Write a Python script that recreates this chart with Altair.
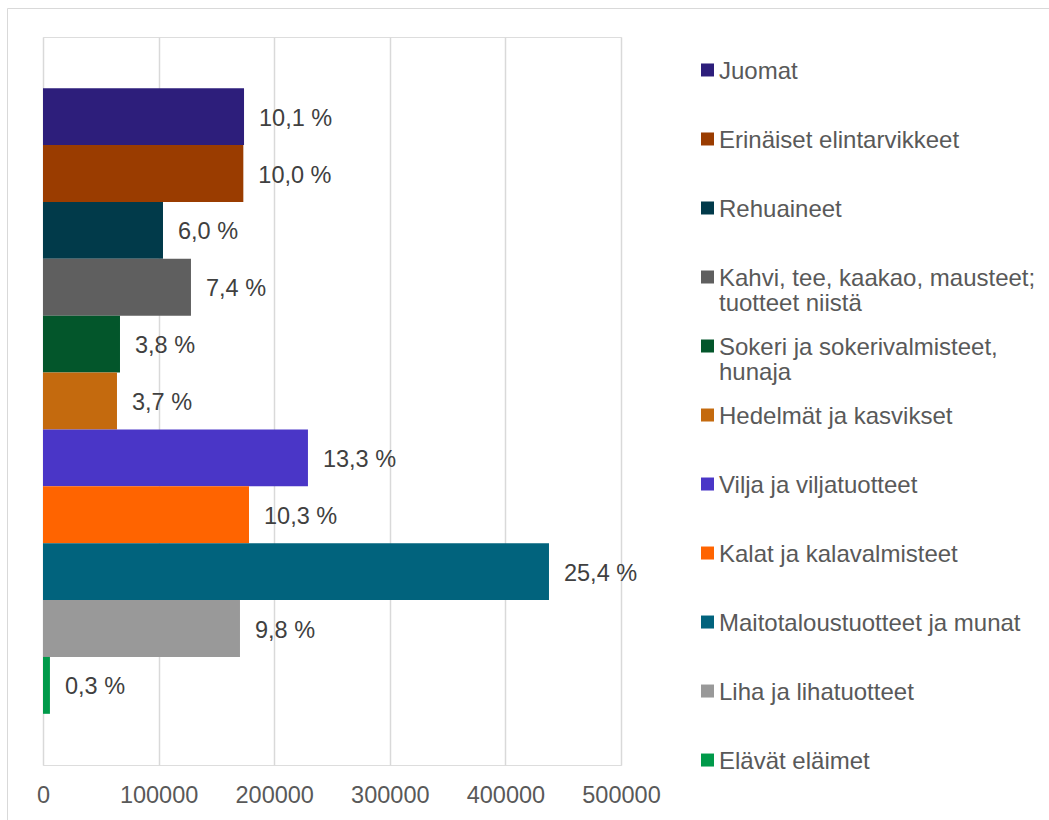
import altair as alt
import pandas as pd

FONT = "Liberation Sans"

categories = [
    "Juomat",
    "Erinäiset elintarvikkeet",
    "Rehuaineet",
    "Kahvi, tee, kaakao, mausteet; tuotteet niistä",
    "Sokeri ja sokerivalmisteet, hunaja",
    "Hedelmät ja kasvikset",
    "Vilja ja viljatuotteet",
    "Kalat ja kalavalmisteet",
    "Maitotaloustuotteet ja munat",
    "Liha ja lihatuotteet",
    "Elävät eläimet",
]
legend_labels = [
    "Juomat",
    "Erinäiset elintarvikkeet",
    "Rehuaineet",
    "Kahvi, tee, kaakao, mausteet;\ntuotteet niistä",
    "Sokeri ja sokerivalmisteet,\nhunaja",
    "Hedelmät ja kasvikset",
    "Vilja ja viljatuotteet",
    "Kalat ja kalavalmisteet",
    "Maitotaloustuotteet ja munat",
    "\u00a0Liha ja lihatuotteet",
    "Elävät eläimet",
]
values = [173900, 173300, 103800, 128000, 66600, 64000, 229200, 178200, 437700, 170400, 6000]
shares = [10.1, 10.0, 6.0, 7.4, 3.8, 3.7, 13.3, 10.3, 25.4, 9.8, 0.3]
colors = [
    "#2d1e7b", "#9a3c00", "#013a4a", "#5f5f5f", "#03562b", "#c46a0e",
    "#4a36c7", "#ff6400", "#01637d", "#999999", "#009a4a",
]
x_ticks = [0, 100000, 200000, 300000, 400000, 500000]

df = pd.DataFrame({
    "category": categories,
    "legend": legend_labels,
    "value": values,
    "label": [f"{s:.1f} %".replace(".", ",") for s in shares],
    "idx": list(range(len(categories))),
})

color_enc = alt.Color("category:N", scale=alt.Scale(domain=categories, range=colors), legend=None)

x_enc = alt.X(
    "value:Q",
    scale=alt.Scale(domain=[0, 500000], nice=False, zero=True),
    axis=alt.Axis(
        values=x_ticks, format="d", grid=True, gridColor="#d9d9d9", gridWidth=1.5,
        domain=False, ticks=False, tickSize=0, labelFont=FONT, labelFontSize=23.5,
        labelColor="#595959", labelPadding=18, labelOverlap=False, labelFlush=False,
        title=None,
    ),
)
y_bar = alt.Y(
    "category:N", sort=categories, axis=None,
    scale=alt.Scale(type="band", paddingInner=0, paddingOuter=0.9),
)
y_leg = alt.Y(
    "idx:Q", axis=None,
    scale=alt.Scale(domain=[-0.478, 10.072], reverse=True, nice=False, zero=False),
)

base = alt.Chart(df)

border = alt.Chart(pd.DataFrame({"k": [0]})).mark_rect(
    fill="transparent", stroke="#d9d9d9", strokeWidth=1
).encode(
    x=alt.value(-35.5), y=alt.value(-28.5), x2=alt.value(1100), y2=alt.value(900)
)

bars = base.mark_bar().encode(x=x_enc, y=y_bar, color=color_enc)

labels = base.mark_text(
    align="left", baseline="middle", dx=15, dy=2, fontSize=23.5, color="#404040", font=FONT
).encode(x="value:Q", y=y_bar, text="label:N")

bar_layer = alt.layer(bars, labels)

leg_sq = base.mark_square(size=169, opacity=1).encode(
    x=alt.value(664.5), y=y_leg, color=color_enc
)
leg_tx = base.mark_text(
    align="left", baseline="top", dy=-10, fontSize=24, color="#595959", font=FONT,
    lineBreak="\n", lineHeight=25,
).encode(x=alt.value(676), y=y_leg, text="legend:N")

legend_layer = alt.layer(leg_sq, leg_tx)

chart = alt.layer(border, bar_layer, legend_layer).resolve_scale(
    y="independent"
).properties(
    width=578,
    height=728,
    padding={"left": 43, "top": 37, "right": 428, "bottom": 55},
    autosize=alt.AutoSizeParams(type="none"),
    background="white",
).configure_view(stroke="transparent").configure(font=FONT)

chart.save("out.html", embed_options={"renderer": "svg", "actions": False})
